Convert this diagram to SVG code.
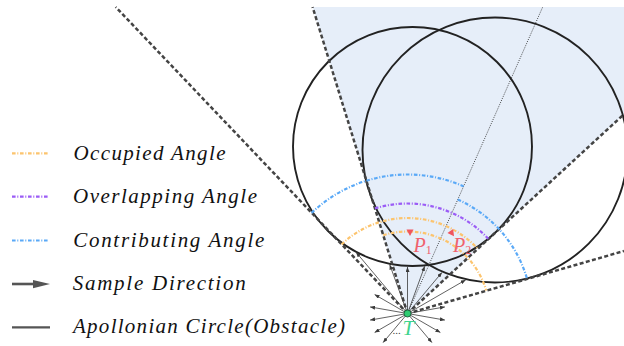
<svg xmlns="http://www.w3.org/2000/svg" width="624" height="346" viewBox="0 0 624 346">
<defs>
<style>
.c{fill:none;stroke:#222;stroke-width:1.9}
.dash{fill:none;stroke:#444;stroke-width:2.5;stroke-dasharray:4 2.4}
.dot{fill:none;stroke:#333;stroke-width:0.9;stroke-dasharray:1 1.3}
.arc{fill:none;stroke-width:2.2;stroke-dasharray:3.6 1.7 1 1.7}
.occ{stroke:#fcc46e}
.ovl{stroke:#9b5cf6}
.con{stroke:#5aa9f7}
.ray{stroke:#3a3a3a;stroke-width:0.8;marker-end:url(#ah)}
.lbl{font-family:"Liberation Serif",serif;font-style:italic;font-size:21px;fill:#111}
.pl{font-family:"Liberation Serif",serif;font-style:italic;font-size:20px;fill:#f0626e}
.sub{font-style:normal;font-size:12px}
.mk{fill:#f0565f}
</style>
<marker id="ah" markerUnits="userSpaceOnUse" markerWidth="5" markerHeight="4" refX="5" refY="2" orient="auto">
<path d="M0,0 L5,2 L0,4 z" fill="#3a3a3a"/>
</marker>
</defs>
<rect width="624" height="346" fill="#fff"/>

<g id="overlap-region">
<polygon points="407.5,313.5 312.6,7 624,7 624,114.2" fill="#e6eef9"/>
</g>

<g id="obstacle-left">
<circle class="c" cx="412.5" cy="146.5" r="119.5"/>
</g>
<g id="obstacle-right">
<circle class="c" cx="495" cy="150" r="132.5"/>
</g>

<g id="tangents">
<line class="dash" x1="407.5" y1="313.5" x2="115.7" y2="7"/>
<line class="dash" x1="407.5" y1="313.5" x2="312.6" y2="7"/>
<line class="dash" x1="407.5" y1="313.5" x2="624" y2="114.2"/>
<line class="dash" x1="407.5" y1="313.5" x2="624" y2="251"/>
<line class="dot" x1="407.5" y1="313.5" x2="542.7" y2="7"/>
</g>

<g id="angles">
<path class="arc con" d="M311.65,212.84 A139,139 0 0 1 463.59,186.31"/>
<path class="arc con" d="M457.74,199.58 A124.5,124.5 0 0 1 527.03,278.68"/>
<path class="arc ovl" d="M374.97,208.42 A110,110 0 0 1 488.44,239.01"/>
<path class="arc occ" d="M341.64,244.34 A95.5,95.5 0 0 1 477.77,248.83"/>
<path class="arc occ" d="M383.25,235.17 A82,82 0 0 1 486.23,290.56"/>
</g>

<g id="connectors">
<line class="ray" x1="407.5" y1="313.5" x2="356.08" y2="252.22"/>
<line class="ray" x1="407.5" y1="313.5" x2="389.72" y2="264.64"/>
<line class="ray" x1="407.5" y1="313.5" x2="407.5" y2="266.9"/>
<line class="ray" x1="407.5" y1="313.5" x2="424.7" y2="266.23"/>
<line class="ray" x1="407.5" y1="313.5" x2="441.95" y2="272.44"/>
<line class="ray" x1="407.5" y1="313.5" x2="465.7" y2="279.9"/>
<line class="ray" x1="407.5" y1="313.5" x2="444.92" y2="306.9"/>
<line class="ray" x1="407.5" y1="313.5" x2="444.92" y2="320.1"/>
<line class="ray" x1="407.5" y1="313.5" x2="440.41" y2="332.5"/>
<line class="ray" x1="407.5" y1="313.5" x2="431.93" y2="342.61"/>
<line class="ray" x1="407.5" y1="313.5" x2="383.07" y2="342.61"/>
<line class="ray" x1="407.5" y1="313.5" x2="374.59" y2="332.5"/>
<line class="ray" x1="407.5" y1="313.5" x2="370.08" y2="320.1"/>
<line class="ray" x1="407.5" y1="313.5" x2="370.08" y2="306.9"/>
<line class="ray" x1="407.5" y1="313.5" x2="374.59" y2="294.5"/>
</g>

<g id="point-P1">
<polygon class="mk" points="406.5,229.5 413.5,229.5 410,236"/>
<text class="pl" x="413.5" y="251.5">P<tspan class="sub" dy="2.5">1</tspan></text>
</g>
<g id="point-P2">
<polygon class="mk" points="-3.5,-3 3.5,-3 0,3.5" transform="translate(452,233.5) rotate(-35)"/>
<text class="pl" x="453" y="251.5">P<tspan class="sub" dy="2.5">2</tspan></text>
</g>

<g id="node-T">
<circle cx="407.5" cy="313.5" r="3.5" fill="#2ecc71" stroke="#1d5a3a" stroke-width="0.9"/>
<text x="392.5" y="334" font-family="Liberation Serif,serif" font-size="11" fill="#444">...</text>
<text x="402.5" y="335" font-family="Liberation Serif,serif" font-style="italic" font-size="21" fill="#3ed48e">T</text>
</g>

<g id="legend-occupied">
<line class="arc occ" x1="12" y1="153.3" x2="48.5" y2="153.3"/>
<text class="lbl" x="73.5" y="159.5" textLength="152" lengthAdjust="spacing">Occupied Angle</text>
</g>
<g id="legend-overlapping">
<line class="arc ovl" x1="12" y1="196.7" x2="48.5" y2="196.7"/>
<text class="lbl" x="73" y="203" textLength="184" lengthAdjust="spacing">Overlapping Angle</text>
</g>
<g id="legend-contributing">
<line class="arc con" x1="12" y1="240.5" x2="48.5" y2="240.5"/>
<text class="lbl" x="73.3" y="246.7" textLength="191" lengthAdjust="spacing">Contributing Angle</text>
</g>
<g id="legend-sample">
<line x1="12" y1="284" x2="36" y2="284" stroke="#555" stroke-width="2.6"/>
<polygon points="33,280 50,284 33,288.3" fill="#555"/>
<text class="lbl" x="72.7" y="289.5" textLength="173" lengthAdjust="spacing">Sample Direction</text>
</g>
<g id="legend-circle">
<line x1="12" y1="327.3" x2="50" y2="327.3" stroke="#555" stroke-width="2.2"/>
<text class="lbl" x="73" y="332.7" textLength="272" lengthAdjust="spacing">Apollonian Circle(Obstacle)</text>
</g>
</svg>
